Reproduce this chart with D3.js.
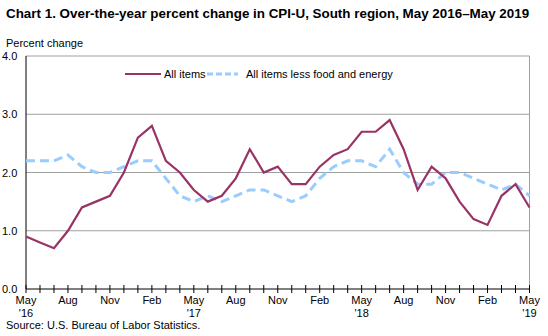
<!DOCTYPE html>
<html>
<head>
<meta charset="utf-8">
<style>
  body { margin: 0; background: #fff; }
  text { font-family: "Liberation Sans", Arial, sans-serif; fill: #000; }
</style>
</head>
<body>
<svg width="548" height="336" id="chart"></svg>
<script src="https://cdn.jsdelivr.net/npm/d3@7/dist/d3.min.js"></script>
<script>

// monthly, May 2016 .. May 2019
const months = ['May','Jun','Jul','Aug','Sep','Oct','Nov','Dec','Jan','Feb','Mar','Apr']
const startYear = 2016

const allItems = [0.9, 0.8, 0.7, 1.0, 1.4, 1.5, 1.6, 2.0, 2.6, 2.8, 2.2, 2.0,
                  1.7, 1.5, 1.6, 1.9, 2.4, 2.0, 2.1, 1.8, 1.8, 2.1, 2.3, 2.4,
                  2.7, 2.7, 2.9, 2.4, 1.7, 2.1, 1.9, 1.5, 1.2, 1.1, 1.6, 1.8,
                  1.4]

const coreItems = [2.2, 2.2, 2.2, 2.3, 2.1, 2.0, 2.0, 2.1, 2.2, 2.2, 1.9, 1.6,
                   1.5, 1.6, 1.5, 1.6, 1.7, 1.7, 1.6, 1.5, 1.6, 1.9, 2.1, 2.2,
                   2.2, 2.1, 2.4, 2.0, 1.8, 1.8, 2.0, 2.0, 1.9, 1.8, 1.7, 1.8,
                   1.6]

const yTicks = [0, 1, 2, 3, 4]

const seriesNames = ['All items', 'All items less food and energy']

const svg = d3.select('#chart')
const pLeft = 26, pRight = 529.5, pTop = 56, pBottom = 289

const x = d3.scaleLinear().domain([0, allItems.length - 1]).range([pLeft, pRight])
const y = d3.scaleLinear().domain([0, 4]).range([pBottom, pTop])

// title
svg.append('text')
  .attr('x', 6).attr('y', 18)
  .attr('font-size', 13.4).attr('font-weight', 'bold')
  .text('Chart 1. Over-the-year percent change in CPI-U, South region, May 2016\u2013May 2019')

svg.append('text')
  .attr('x', 6).attr('y', 47)
  .attr('font-size', 11)
  .text('Percent change')

// gridlines
svg.append('g')
  .selectAll('line')
  .data(yTicks.filter(d => d > 0))
  .enter()
  .append('line')
    .attr('x1', pLeft).attr('x2', pRight)
    .attr('y1', d => y(d)).attr('y2', d => y(d))
    .attr('stroke', '#a0a0a0')
    .attr('stroke-width', 1)

// right border
svg.append('line')
  .attr('x1', pRight).attr('x2', pRight)
  .attr('y1', pTop).attr('y2', pBottom)
  .attr('stroke', '#a0a0a0')

// y labels
svg.append('g')
  .selectAll('text')
  .data(yTicks)
  .enter()
  .append('text')
    .attr('x', 2)
    .attr('y', d => y(d) + 4)
    .attr('font-size', 11)
    .text(d => d.toFixed(1))

// axes lines
svg.append('line')
  .attr('x1', pLeft).attr('x2', pLeft)
  .attr('y1', pTop).attr('y2', pBottom)
  .attr('stroke', '#000')
svg.append('line')
  .attr('x1', pLeft).attr('x2', pRight)
  .attr('y1', pBottom).attr('y2', pBottom)
  .attr('stroke', '#000')

// x ticks
svg.append('g')
  .selectAll('line')
  .data(d3.range(allItems.length))
  .enter()
  .append('line')
    .attr('x1', d => x(d)).attr('x2', d => x(d))
    .attr('y1', pBottom - 4).attr('y2', pBottom + 4)
    .attr('stroke', '#000')

let labels = svg.append('g')
  .selectAll('text')
  .data(d3.range(0, allItems.length, 3))
  .enter()
  .append('text')
    .attr('x', d => x(d))
    .attr('y', 304)
    .attr('text-anchor', 'middle')
    .attr('font-size', 11)
labels.append('tspan')
  .text(d => months[d % 12])
labels.filter(d => d % 12 === 0)
  .append('tspan')
    .attr('x', d => x(d))
    .attr('dy', 13)
    .text(d => "'" + String(startYear + d / 12).slice(2))

// lines
let line = d3.line().x((d, i) => x(i)).y(d => y(d))

svg.append('path')
  .datum(coreItems)
  .attr('fill', 'none')
  .attr('stroke', '#99ccff')
  .attr('stroke-width', 3)
  .attr('stroke-dasharray', '9,5')
  .attr('d', line)

svg.append('path')
  .datum(allItems)
  .attr('fill', 'none')
  .attr('stroke', '#993366')
  .attr('stroke-width', 2.2)
  .attr('d', line)

// legend
svg.append('line')
  .attr('x1', 125).attr('x2', 161).attr('y1', 74).attr('y2', 74)
  .attr('stroke', '#993366').attr('stroke-width', 2.2)
svg.append('text')
  .attr('x', 164).attr('y', 78).attr('font-size', 11)
  .text(seriesNames[0])
svg.append('line')
  .attr('x1', 207).attr('x2', 238).attr('y1', 74).attr('y2', 74)
  .attr('stroke', '#99ccff').attr('stroke-width', 3)
  .attr('stroke-dasharray', '6,3')
svg.append('text')
  .attr('x', 246).attr('y', 78).attr('font-size', 11)
  .text(seriesNames[1])

svg.append('text')
  .attr('x', 6).attr('y', 329)
  .attr('font-size', 11)
  .text('Source: U.S. Bureau of Labor Statistics.')

</script>
</body>
</html>
